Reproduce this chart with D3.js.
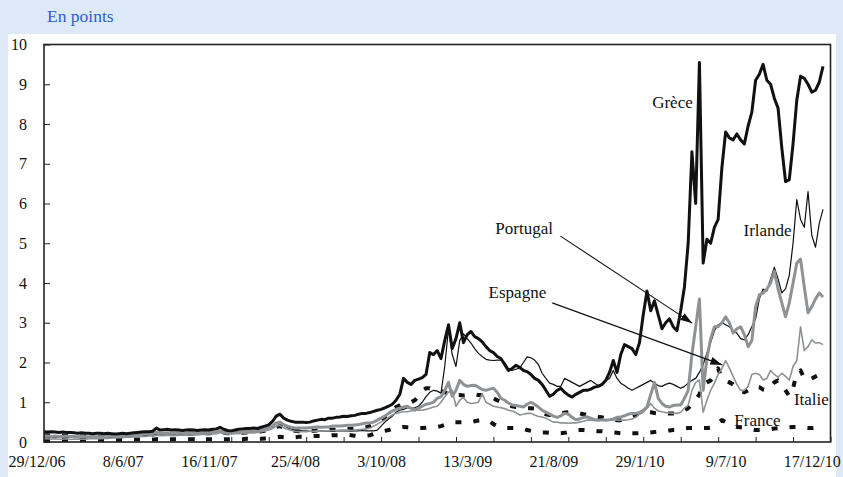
<!DOCTYPE html>
<html>
<head>
<meta charset="utf-8">
<script src="https://cdn.jsdelivr.net/npm/d3@7/dist/d3.min.js"></script>
<style>
    body { margin: 0; background: #dde9f7; }
    svg { display: block; }
</style>
</head>
<body>
<svg id="chart" width="843" height="477"></svg>
<script>
// ——— DATA ————————————————————————————————————————————————————————
// weekly points, week 0 = first obs (start of 2007)
const dateLabels = ["29/12/06", "8/6/07", "16/11/07", "25/4/08", "3/10/08", "13/3/09", "21/8/09", "29/1/10", "9/7/10", "17/12/10"];
const labelWeeks = [-2, 21, 44, 67, 90, 113, 136, 159, 182, 205];
const yTicks = [0, 1, 2, 3, 4, 5, 6, 7, 8, 9, 10];

const greece = [
    0.26, 0.25, 0.26, 0.25, 0.24, 0.25, 0.24, 0.24, 0.23, 0.22,
    0.23, 0.22, 0.22, 0.21, 0.22, 0.22, 0.21, 0.22, 0.21, 0.20,
    0.21, 0.22, 0.21, 0.22, 0.23, 0.24, 0.25, 0.26, 0.26, 0.27,
    0.35, 0.30, 0.31, 0.32, 0.30, 0.31, 0.30, 0.29, 0.30, 0.31,
    0.30, 0.29, 0.30, 0.31, 0.30, 0.32, 0.33, 0.37, 0.32, 0.29,
    0.28, 0.30, 0.32, 0.33, 0.34, 0.34, 0.35, 0.34, 0.37, 0.40,
    0.43, 0.52, 0.65, 0.70, 0.60, 0.55, 0.52, 0.50, 0.50, 0.50,
    0.49, 0.50, 0.53, 0.55, 0.57, 0.56, 0.60, 0.60, 0.62, 0.63,
    0.65, 0.64, 0.66, 0.67, 0.70, 0.72, 0.72, 0.74, 0.77, 0.80,
    0.82, 0.86, 0.90, 0.95, 1.05, 1.20, 1.60, 1.50, 1.45, 1.55,
    1.58, 1.62, 1.70, 2.25, 2.20, 2.30, 2.10, 2.55, 2.95, 2.35,
    2.60, 3.00, 2.50, 2.70, 2.78, 2.65, 2.60, 2.52, 2.40, 2.30,
    2.25, 2.15, 2.10, 1.95, 1.80, 1.85, 1.93, 1.88, 1.80, 1.77,
    1.70, 1.60, 1.55, 1.45, 1.30, 1.15, 1.20, 1.30, 1.35, 1.25,
    1.18, 1.13, 1.20, 1.25, 1.30, 1.30, 1.33, 1.38, 1.40, 1.45,
    1.55, 1.75, 2.05, 1.75, 2.20, 2.45, 2.40, 2.35, 2.20, 2.50,
    3.20, 3.80, 3.30, 3.55, 3.20, 2.85, 3.00, 3.10, 2.90, 2.80,
    3.30, 3.90, 5.00, 7.30, 6.00, 9.55, 4.50, 5.10, 5.00, 5.40,
    5.60, 6.90, 7.80, 7.65, 7.60, 7.75, 7.60, 7.50, 7.95, 8.30,
    9.10, 9.25, 9.50, 9.10, 9.00, 8.65, 8.40, 7.40, 6.55, 6.60,
    7.50, 8.60, 9.20, 9.15, 9.00, 8.80, 8.85, 9.05, 9.45
];

const irlande = [
    0.12, 0.12, 0.11, 0.11, 0.12, 0.11, 0.11, 0.12, 0.11, 0.11,
    0.10, 0.11, 0.10, 0.10, 0.11, 0.10, 0.10, 0.11, 0.11, 0.12,
    0.12, 0.13, 0.13, 0.14, 0.14, 0.15, 0.16, 0.16, 0.17, 0.18,
    0.22, 0.20, 0.20, 0.21, 0.20, 0.21, 0.20, 0.20, 0.21, 0.22,
    0.22, 0.21, 0.22, 0.23, 0.23, 0.24, 0.25, 0.28, 0.24, 0.22,
    0.22, 0.23, 0.24, 0.25, 0.26, 0.25, 0.26, 0.26, 0.28, 0.30,
    0.32, 0.38, 0.48, 0.50, 0.42, 0.36, 0.33, 0.30, 0.30, 0.28,
    0.28, 0.27, 0.27, 0.28, 0.28, 0.27, 0.27, 0.28, 0.28, 0.28,
    0.28, 0.28, 0.27, 0.28, 0.28, 0.29, 0.28, 0.28, 0.28, 0.30,
    0.40, 0.50, 0.58, 0.65, 0.75, 0.80, 0.82, 0.86, 0.85, 0.86,
    0.90, 1.00, 1.14, 1.25, 1.30, 1.28, 1.23, 1.90, 2.85, 2.20,
    1.90, 2.55, 2.72, 2.60, 2.49, 2.35, 2.23, 2.15, 2.08, 2.06,
    2.05, 2.06, 2.06, 2.00, 1.85, 1.80, 1.83, 1.86, 2.00, 2.14,
    2.12, 2.06, 1.95, 1.73, 1.60, 1.48, 1.45, 1.40, 1.40, 1.60,
    1.55, 1.50, 1.45, 1.40, 1.45, 1.50, 1.55, 1.48, 1.42, 1.45,
    1.55, 1.60, 1.80, 1.60, 1.48, 1.42, 1.35, 1.30, 1.35, 1.40,
    1.45, 1.50, 1.55, 1.48, 1.42, 1.40, 1.45, 1.48, 1.45, 1.40,
    1.35, 1.40, 1.48, 1.55, 1.60, 1.75, 1.95, 2.24, 2.50, 2.80,
    2.95, 3.00, 2.95, 2.90, 2.80, 2.74, 2.60, 2.57, 2.70, 2.90,
    3.10, 3.60, 3.85, 3.80, 4.10, 4.40, 4.10, 3.75, 3.85, 4.20,
    5.00, 6.10, 5.60, 5.40, 6.30, 5.20, 4.90, 5.50, 5.85
];

const portugal = [
    0.15, 0.15, 0.14, 0.15, 0.14, 0.14, 0.15, 0.14, 0.14, 0.13,
    0.14, 0.13, 0.13, 0.14, 0.13, 0.13, 0.14, 0.14, 0.15, 0.15,
    0.16, 0.16, 0.17, 0.17, 0.18, 0.18, 0.19, 0.20, 0.20, 0.21,
    0.24, 0.22, 0.22, 0.23, 0.22, 0.22, 0.23, 0.22, 0.22, 0.23,
    0.23, 0.22, 0.23, 0.24, 0.24, 0.25, 0.25, 0.28, 0.25, 0.23,
    0.23, 0.24, 0.25, 0.26, 0.27, 0.27, 0.28, 0.28, 0.30, 0.33,
    0.35, 0.40, 0.48, 0.50, 0.44, 0.40, 0.37, 0.35, 0.35, 0.35,
    0.35, 0.36, 0.37, 0.38, 0.37, 0.38, 0.38, 0.40, 0.40, 0.40,
    0.41, 0.42, 0.42, 0.43, 0.44, 0.46, 0.48, 0.48, 0.50, 0.55,
    0.60, 0.65, 0.72, 0.78, 0.82, 0.85, 0.88, 0.90, 0.85, 0.80,
    0.85, 0.90, 0.95, 0.97, 1.00, 1.10, 1.14, 1.30, 1.50, 1.15,
    1.30, 1.55, 1.45, 1.40, 1.42, 1.43, 1.38, 1.32, 1.30, 1.33,
    1.35, 1.25, 1.10, 1.05, 0.98, 0.93, 0.92, 0.90, 0.88, 0.95,
    1.00, 0.95, 0.88, 0.80, 0.75, 0.70, 0.65, 0.62, 0.66, 0.72,
    0.70, 0.62, 0.56, 0.58, 0.62, 0.63, 0.60, 0.56, 0.55, 0.56,
    0.55, 0.56, 0.58, 0.62, 0.63, 0.66, 0.70, 0.72, 0.72, 0.74,
    0.80, 0.88, 1.20, 1.50, 1.10, 0.97, 0.90, 0.88, 0.92, 0.93,
    0.93, 1.10, 1.30, 2.20, 2.90, 3.60, 1.30, 2.10, 2.60, 2.90,
    2.90, 3.00, 3.15, 3.00, 2.74, 2.85, 2.90, 2.70, 2.40, 2.55,
    3.40, 3.70, 3.75, 3.85, 4.00, 4.30, 3.85, 3.50, 3.15, 3.50,
    4.00, 4.50, 4.60, 3.90, 3.25, 3.40, 3.60, 3.75, 3.65
];

const espagne = [
    0.08, 0.08, 0.07, 0.08, 0.07, 0.07, 0.08, 0.07, 0.07, 0.07,
    0.07, 0.07, 0.08, 0.08, 0.08, 0.08, 0.09, 0.09, 0.10, 0.10,
    0.11, 0.11, 0.12, 0.12, 0.13, 0.13, 0.14, 0.14, 0.15, 0.15,
    0.17, 0.16, 0.16, 0.17, 0.16, 0.16, 0.17, 0.17, 0.17, 0.18,
    0.18, 0.18, 0.19, 0.19, 0.20, 0.20, 0.21, 0.24, 0.21, 0.20,
    0.20, 0.21, 0.21, 0.22, 0.22, 0.23, 0.23, 0.24, 0.26, 0.28,
    0.30, 0.34, 0.40, 0.42, 0.36, 0.32, 0.29, 0.27, 0.26, 0.26,
    0.26, 0.27, 0.27, 0.28, 0.27, 0.28, 0.28, 0.29, 0.29, 0.30,
    0.30, 0.30, 0.29, 0.30, 0.31, 0.32, 0.33, 0.35, 0.40, 0.45,
    0.50, 0.55, 0.62, 0.68, 0.72, 0.74, 0.76, 0.76, 0.78, 0.80,
    0.80, 0.80, 0.82, 0.85, 0.88, 0.90, 1.00, 1.14, 1.25, 1.30,
    0.90, 1.05, 1.12, 1.00, 0.97, 0.98, 1.00, 1.22, 1.00, 0.95,
    0.90, 0.88, 0.86, 0.84, 0.80, 0.78, 0.74, 0.68, 0.70, 0.72,
    0.72, 0.68, 0.64, 0.63, 0.60, 0.55, 0.50, 0.50, 0.48, 0.48,
    0.47, 0.48, 0.48, 0.50, 0.52, 0.55, 0.55, 0.54, 0.55, 0.55,
    0.55, 0.55, 0.56, 0.55, 0.55, 0.55, 0.56, 0.58, 0.62, 0.70,
    0.75, 0.85, 0.97, 0.85, 0.78, 0.76, 0.74, 0.73, 0.72, 0.72,
    0.75, 0.85, 0.92, 1.30, 1.50, 1.56, 0.75, 1.05, 1.30, 1.48,
    1.70, 1.85, 2.05, 1.86, 1.65, 1.45, 1.30, 1.30, 1.40, 1.70,
    1.73, 1.70, 1.56, 1.60, 1.80, 1.70, 1.63, 1.73, 1.65, 1.56,
    1.90, 2.05, 2.90, 2.30, 2.40, 2.57, 2.49, 2.50, 2.45
];

const italie = [
    0.17, 0.17, 0.16, 0.16, 0.16, 0.15, 0.15, 0.15, 0.14, 0.14,
    0.14, 0.14, 0.13, 0.13, 0.13, 0.13, 0.13, 0.14, 0.14, 0.14,
    0.15, 0.15, 0.16, 0.16, 0.17, 0.17, 0.18, 0.18, 0.19, 0.19,
    0.21, 0.20, 0.20, 0.20, 0.20, 0.20, 0.20, 0.20, 0.20, 0.21,
    0.21, 0.21, 0.22, 0.22, 0.22, 0.23, 0.23, 0.25, 0.23, 0.22,
    0.22, 0.22, 0.23, 0.23, 0.24, 0.24, 0.25, 0.25, 0.27, 0.28,
    0.30, 0.33, 0.38, 0.40, 0.36, 0.33, 0.30, 0.28, 0.27, 0.27,
    0.27, 0.28, 0.28, 0.29, 0.29, 0.30, 0.30, 0.31, 0.31, 0.32,
    0.32, 0.33, 0.33, 0.34, 0.35, 0.36, 0.37, 0.40, 0.45, 0.50,
    0.55, 0.62, 0.70, 0.80, 0.88, 0.92, 0.97, 0.98, 1.00, 1.05,
    1.15, 1.30, 1.35, 1.35, 1.30, 1.30, 1.28, 1.25, 1.22, 1.20,
    1.18, 1.18, 1.17, 1.18, 1.18, 1.20, 1.18, 1.18, 1.17, 1.15,
    1.10, 1.05, 1.00, 0.97, 0.93, 0.90, 0.88, 0.88, 0.86, 0.85,
    0.85, 0.84, 0.80, 0.75, 0.70, 0.68, 0.68, 0.70, 0.72, 0.74,
    0.75, 0.76, 0.75, 0.72, 0.70, 0.68, 0.66, 0.64, 0.63, 0.62,
    0.60, 0.58, 0.56, 0.55, 0.55, 0.57, 0.60, 0.64, 0.68, 0.72,
    0.75, 0.76, 0.75, 0.73, 0.72, 0.72, 0.72, 0.72, 0.72, 0.72,
    0.75, 0.80, 0.85, 0.95, 1.05, 1.20, 1.45, 1.50, 1.55, 1.70,
    1.85, 1.60, 1.55, 1.50, 1.45, 1.35, 1.28, 1.25, 1.30, 1.35,
    1.40, 1.38, 1.32, 1.30, 1.40, 1.50, 1.55, 1.45, 1.30, 1.15,
    1.35, 1.75, 1.80, 1.60, 1.55, 1.60, 1.65, 1.70, 1.73
];

const france = [
    0.05, 0.05, 0.05, 0.05, 0.05, 0.05, 0.05, 0.05, 0.05, 0.05,
    0.05, 0.05, 0.05, 0.05, 0.05, 0.05, 0.05, 0.05, 0.05, 0.05,
    0.05, 0.05, 0.06, 0.06, 0.06, 0.06, 0.06, 0.06, 0.06, 0.06,
    0.07, 0.07, 0.07, 0.07, 0.07, 0.07, 0.07, 0.07, 0.07, 0.07,
    0.07, 0.07, 0.07, 0.07, 0.07, 0.07, 0.07, 0.08, 0.07, 0.07,
    0.07, 0.07, 0.07, 0.07, 0.08, 0.08, 0.08, 0.08, 0.08, 0.09,
    0.10, 0.10, 0.12, 0.13, 0.12, 0.11, 0.11, 0.12, 0.13, 0.13,
    0.14, 0.14, 0.15, 0.15, 0.15, 0.16, 0.16, 0.17, 0.17, 0.17,
    0.18, 0.18, 0.17, 0.16, 0.15, 0.15, 0.16, 0.17, 0.20, 0.24,
    0.26, 0.28, 0.30, 0.33, 0.35, 0.37, 0.38, 0.37, 0.36, 0.35,
    0.35, 0.35, 0.36, 0.37, 0.38, 0.38, 0.40, 0.43, 0.47, 0.50,
    0.50, 0.50, 0.50, 0.50, 0.50, 0.52, 0.54, 0.55, 0.55, 0.52,
    0.45, 0.40, 0.36, 0.35, 0.35, 0.35, 0.35, 0.34, 0.33, 0.30,
    0.28, 0.26, 0.25, 0.24, 0.24, 0.23, 0.22, 0.22, 0.22, 0.23,
    0.25, 0.27, 0.29, 0.30, 0.30, 0.29, 0.28, 0.28, 0.27, 0.27,
    0.26, 0.25, 0.24, 0.23, 0.22, 0.22, 0.22, 0.22, 0.22, 0.22,
    0.22, 0.23, 0.24, 0.25, 0.26, 0.27, 0.28, 0.29, 0.30, 0.30,
    0.32, 0.34, 0.35, 0.35, 0.35, 0.35, 0.35, 0.35, 0.36, 0.40,
    0.47, 0.55, 0.50, 0.45, 0.40, 0.38, 0.37, 0.36, 0.34, 0.32,
    0.30, 0.30, 0.30, 0.31, 0.32, 0.34, 0.35, 0.36, 0.36, 0.37,
    0.38, 0.38, 0.37, 0.36, 0.35, 0.35, 0.36, 0.37, 0.38
];

// label anchors and arrows, in (week, value)
const seriesLabels = [
    { name: "Grèce", w: 167.8, v: 8.53 },
    { name: "Irlande", w: 193.2, v: 5.33 },
    { name: "Portugal", w: 128.2, v: 5.36 },
    { name: "Espagne", w: 126.4, v: 3.77 },
    { name: "Italie", w: 204.9, v: 1.08 },
    { name: "France", w: 190.5, v: 0.55 }
];
const arrows = [
    { from: [137.9, 5.18], to: [173.1, 2.99] },
    { from: [135.7, 3.5], to: [181.1, 1.94] }
];

// ——— SETUP ———————————————————————————————————————————————————————
const svg = d3.select("#chart");
const plotLeft = 44, plotRight = 830.5, plotTop = 44.5, plotBottom = 442;
const serif = "'Liberation Serif', 'Times New Roman', serif";

// white panel + header
svg.append("rect")
    .attr("x", 8).attr("y", 34)
    .attr("width", 828).attr("height", 443)
    .attr("fill", "#fff");

svg.append("text")
    .attr("x", 47).attr("y", 22)
    .attr("font-family", serif)
    .attr("font-size", 17.5)
    .attr("fill", "#2c5fd3")
    .text("En points");

// ——— SCALES ——————————————————————————————————————————————————————
const x = d3.scaleLinear().domain([0, 210]).range([plotLeft, plotRight]);
const y = d3.scaleLinear().domain([0, 10]).range([plotBottom, plotTop]);

// ——— AXES ————————————————————————————————————————————————————————
const xTicks = d3.range(0, 211, 10);

svg.append("g")
    .attr("transform", `translate(0,${plotBottom})`)
    .call(d3.axisBottom(x).tickValues(xTicks).tickSize(-5).tickFormat(""))
    .call(g => g.select(".domain").remove())
    .call(g => g.selectAll("line").attr("stroke", "#222"));

svg.append("g")
    .attr("transform", `translate(0,${plotBottom})`)
    .call(d3.axisBottom(x).tickValues(labelWeeks).tickSize(0).tickPadding(14)
        .tickFormat((d, i) => dateLabels[i]))
    .call(g => g.select(".domain").remove())
    .call(g => g.selectAll("text")
        .attr("font-family", serif).attr("font-size", 16).attr("fill", "#111"));

svg.append("g")
    .attr("transform", `translate(${plotLeft},0)`)
    .call(d3.axisLeft(y).tickValues(yTicks).tickSize(-6).tickPadding(17).tickFormat(d3.format("d")))
    .call(g => g.select(".domain").remove())
    .call(g => g.selectAll("line").attr("stroke", "#222"))
    .call(g => g.selectAll("text")
        .attr("font-family", serif).attr("font-size", 16).attr("fill", "#111"));

// ——— LINES ———————————————————————————————————————————————————————
const line = d3.line()
    .x((d, i) => x(i))
    .y((d) => y(d));

const series = [
    { values: france, color: "#111", width: 4, dash: "6,12" },
    { values: italie, color: "#111", width: 4, dash: "6,12" },
    { values: irlande, color: "#111", width: 1.2, dash: null },
    { values: espagne, color: "#8e9295", width: 1.6, dash: null },
    { values: portugal, color: "#8e9295", width: 3, dash: null },
    { values: greece, color: "#111", width: 3, dash: null }
];

svg.append("g")
    .selectAll("path")
    .data(series)
    .enter()
    .append("path")
    .attr("d", (d) => line(d.values))
    .attr("fill", "none")
    .attr("stroke", (d) => d.color)
    .attr("stroke-width", (d) => d.width)
    .attr("stroke-dasharray", (d) => d.dash)
    .attr("stroke-linejoin", "round");

// frame
svg.append("rect")
    .attr("x", plotLeft).attr("y", plotTop)
    .attr("width", plotRight - plotLeft).attr("height", plotBottom - plotTop)
    .attr("fill", "none")
    .attr("stroke", "#222")
    .attr("stroke-width", 1.6);

// ——— ANNOTATIONS —————————————————————————————————————————————————
svg.append("defs").append("marker")
    .attr("id", "head")
    .attr("viewBox", "0 0 12 8")
    .attr("refX", 12).attr("refY", 4)
    .attr("markerWidth", 12).attr("markerHeight", 8)
    .attr("markerUnits", "userSpaceOnUse")
    .attr("orient", "auto")
    .append("path")
    .attr("d", "M0,0L12,4L0,8Z")
    .attr("fill", "#111");

svg.append("g")
    .selectAll("line")
    .data(arrows)
    .enter()
    .append("line")
    .attr("x1", (d) => x(d.from[0])).attr("y1", (d) => y(d.from[1]))
    .attr("x2", (d) => x(d.to[0])).attr("y2", (d) => y(d.to[1]))
    .attr("stroke", "#111")
    .attr("stroke-width", 1.1)
    .attr("marker-end", "url(#head)");

svg.append("g")
    .selectAll("text")
    .data(seriesLabels)
    .enter()
    .append("text")
    .attr("x", (d) => x(d.w))
    .attr("y", (d) => y(d.v))
    .attr("text-anchor", "middle")
    .attr("dominant-baseline", "central")
    .attr("font-family", serif)
    .attr("font-size", 17)
    .attr("fill", "#111")
    .text((d) => d.name);
</script>
</body>
</html>
